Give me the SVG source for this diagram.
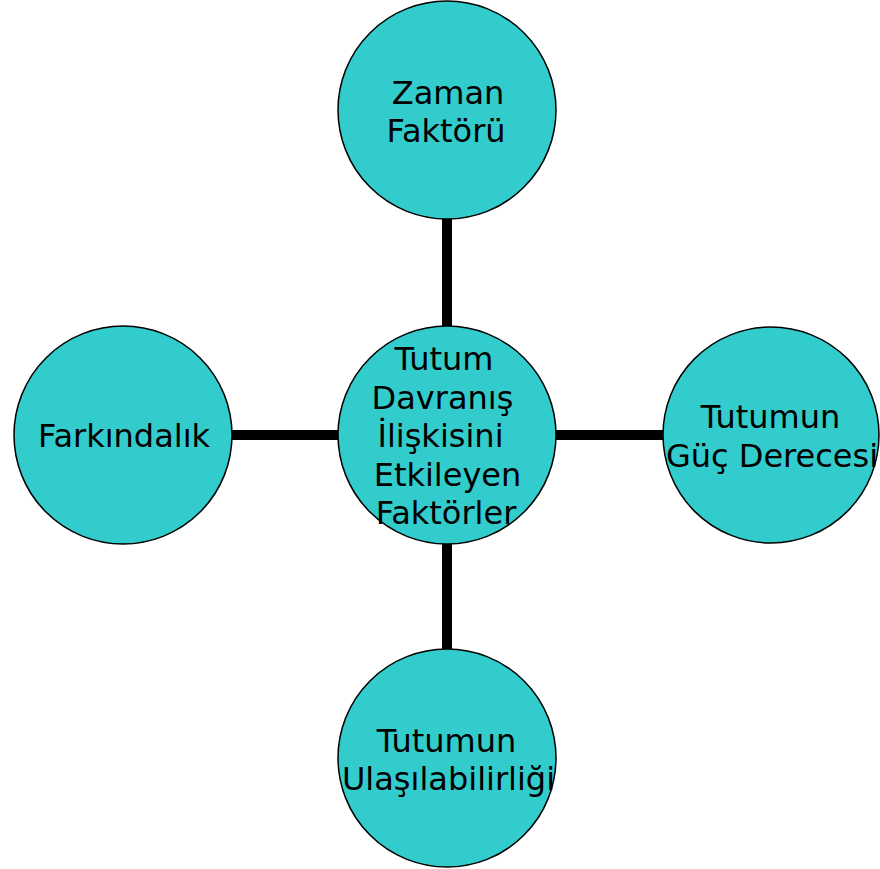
<svg xmlns="http://www.w3.org/2000/svg" width="880" height="869" viewBox="0 0 880 869">
<style>
.n{fill:#33CCCC;stroke:#000;stroke-width:1.5}
.t{font-family:"DejaVu Sans","Verdana",sans-serif;font-size:32px;fill:#000;text-anchor:middle}
.c{stroke:#000;stroke-width:10;fill:none}
</style>
<rect width="880" height="869" fill="#fff"/>
<g id="connectors">
<line class="c" x1="447" y1="219" x2="447" y2="326"/>
<line class="c" x1="447" y1="544" x2="447" y2="650"/>
<line class="c" x1="232" y1="435" x2="338" y2="435"/>
<line class="c" x1="556" y1="435" x2="663" y2="435"/>
</g>
<g id="center">
<circle class="n" cx="447" cy="435" r="109"/>
<text class="t"><tspan x="444" y="370">Tutum</tspan><tspan x="442.5" y="408.5">Davranış</tspan><tspan x="440.5" y="447">İlişkisini</tspan><tspan x="447.5" y="485.5">Etkileyen</tspan><tspan x="446" y="524">Faktörler</tspan></text>
</g>
<g id="zaman">
<circle class="n" cx="447" cy="110" r="109"/>
<text class="t"><tspan x="448" y="104">Zaman</tspan><tspan x="446" y="142">Faktörü</tspan></text>
</g>
<g id="farkindalik">
<circle class="n" cx="123" cy="435" r="109"/>
<text class="t" x="124" y="447">Farkındalık</text>
</g>
<g id="guc">
<circle class="n" cx="771" cy="435" r="108"/>
<text class="t"><tspan x="770.5" y="428">Tutumun</tspan><tspan x="772" y="467">Güç Derecesi</tspan></text>
</g>
<g id="ulasilabilirlik">
<circle class="n" cx="447" cy="758" r="109"/>
<text class="t"><tspan x="446.5" y="752">Tutumun</tspan><tspan x="448.5" y="790">Ulaşılabilirliği</tspan></text>
</g>
</svg>
